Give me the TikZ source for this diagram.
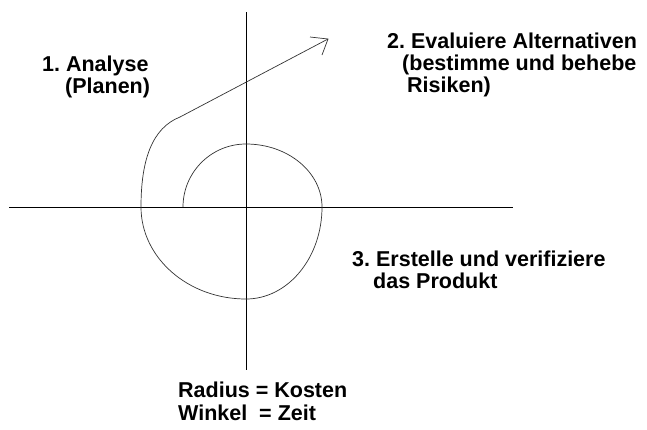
\documentclass[tikz,border=0pt]{standalone}
\usepackage{fontspec}
\setmainfont{Liberation Sans}
\frenchspacing
\begin{document}
\begin{tikzpicture}[x=1pt,y=1pt,
  lbl/.style={anchor=base west,inner sep=0pt,font=\fontsize{21.5}{23}\selectfont\bfseries},
  axis/.style={draw=black,line width=0.9pt},
  spiral/.style={draw=black!80,line width=0.7pt}]
\useasboundingbox (0,0) rectangle (647,-429);
% axes
\coordinate (vtop) at (246,-12);
\coordinate (vbot) at (246,-370);
\coordinate (hl) at (9,-207);
\coordinate (hr) at (513,-207);
\draw[axis] (vtop) -- (vbot);
\draw[axis] (hl) -- (hr);
% spiral
\coordinate (s0) at (183,-207);
\coordinate (c1) at (180,-117);
\coordinate (tip) at (328,-39);
\coordinate (h1) at (310,-37);
\coordinate (h2) at (322,-55);
\draw[spiral] (s0) arc[start angle=180,end angle=90,radius=63]
  arc[start angle=90,end angle=0,x radius=76,y radius=63]
  arc[start angle=0,end angle=-90,x radius=76,y radius=92]
  arc[start angle=-90,end angle=-180,x radius=105,y radius=92]
  .. controls (141,-160) and (152,-128) .. (c1) -- (tip);
\draw[spiral] (h1) -- (tip) -- (h2);
% labels
\node[lbl] (a1) at (42,-71) {1. Analyse};
\node[lbl] (a2) at (65,-93) {(Planen)};
\node[lbl] (b1) at (387,-48) {2. Evaluiere Alternativen};
\node[lbl] (b2) at (402,-70) {(bestimme und behebe};
\node[lbl] (b3) at (407,-92) {Risiken)};
\node[lbl] (c3a) at (352,-266) {3. Erstelle und verifiziere};
\node[lbl] (c3b) at (373,-288) {das Produkt};
\node[lbl] (r1) at (178,-397) {Radius = Kosten};
\node[lbl] (r2) at (178,-420) {Winkel\ \ = Zeit};
\end{tikzpicture}
\end{document}
